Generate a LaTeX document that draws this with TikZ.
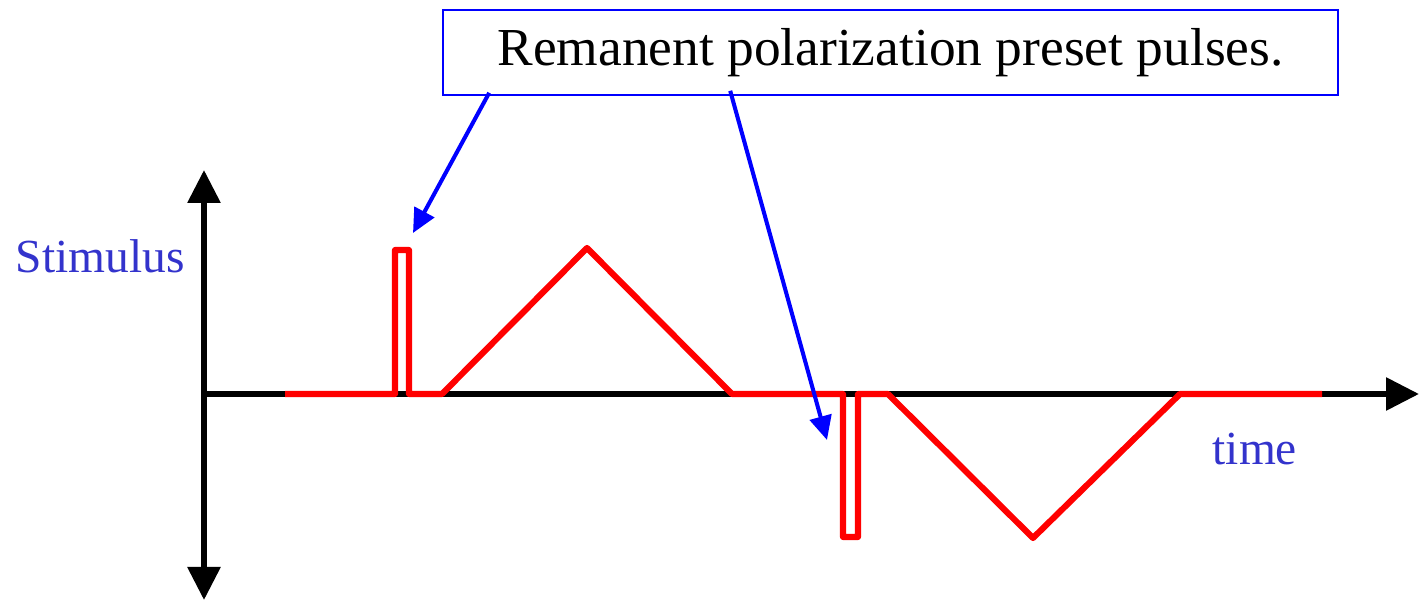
\documentclass[tikz,border=0pt]{standalone}
\usepackage{fontspec}
\setmainfont{Liberation Serif}
\usepackage{tikz}
\usetikzlibrary{arrows.meta,calc}
\definecolor{PulseRed}{HTML}{FF0000}
\definecolor{NoteBlue}{HTML}{0000FF}
\definecolor{LabelBlue}{HTML}{3333CC}
\tikzset{
  % Axis line
  ax/.style={line width=1.7pt,black},
  axtip/.tip={Triangle[length=0.33cm,width=0.32cm]},
  % Waveform
  wave/.style={line width=1.75pt,PulseRed,line join=round},
  % Note box
  NB/.style={rectangle,draw=NoteBlue,line width=0.45pt,
             minimum width=8.95cm,minimum height=0.85cm,
             inner sep=0pt,text centered,
             font=\fontsize{15.2}{18}\selectfont},
  % Pointer arrow
  ptr/.style={-{Triangle[length=0.24cm,width=0.22cm]},line width=1.15pt,NoteBlue},
  % Axis label
  LB/.style={font=\fontsize{13.5}{16}\selectfont,text=LabelBlue,
             inner sep=0pt,anchor=base west}
}
\begin{document}
\begin{tikzpicture}
  \useasboundingbox (0,0) rectangle (14.19,6);
  \coordinate (ytop) at (2.04,4.30);
  \coordinate (ybot) at (2.04,0);
  \coordinate (xorg) at (2.04,2.06);
  \coordinate (xend) at (14.19,2.06);
  \draw[ax,axtip-axtip] (ybot)--(ytop);
  \draw[ax,-axtip] (xorg)--(xend);
  % stimulus waveform
  \draw[wave] (2.85,2.06)--(3.95,2.06)--(3.95,3.50)--(4.09,3.50)--(4.09,2.06)--(4.42,2.06)
    --(5.87,3.52)--(7.32,2.06)--(8.43,2.06)--(8.43,0.63)--(8.58,0.63)--(8.58,2.06)
    --(8.88,2.06)--(10.33,0.62)--(11.80,2.06)--(13.22,2.06);
  \coordinate (tip1) at (4.13,3.67);
  \coordinate (tip2) at (8.27,1.60);
  \node[NB] (note) at (8.905,5.475) {Remanent polarization preset pulses.};
  \draw[ptr] ($(note.south west)+(0.47,0.03)$)--(tip1);
  \draw[ptr] ($(note.south west)+(2.88,0.05)$)--(tip2);
  \node[LB] (stim) at (0.15,3.27) {Stimulus};
  \node[LB] (time) at (12.12,1.35) {time};
\end{tikzpicture}
\end{document}
